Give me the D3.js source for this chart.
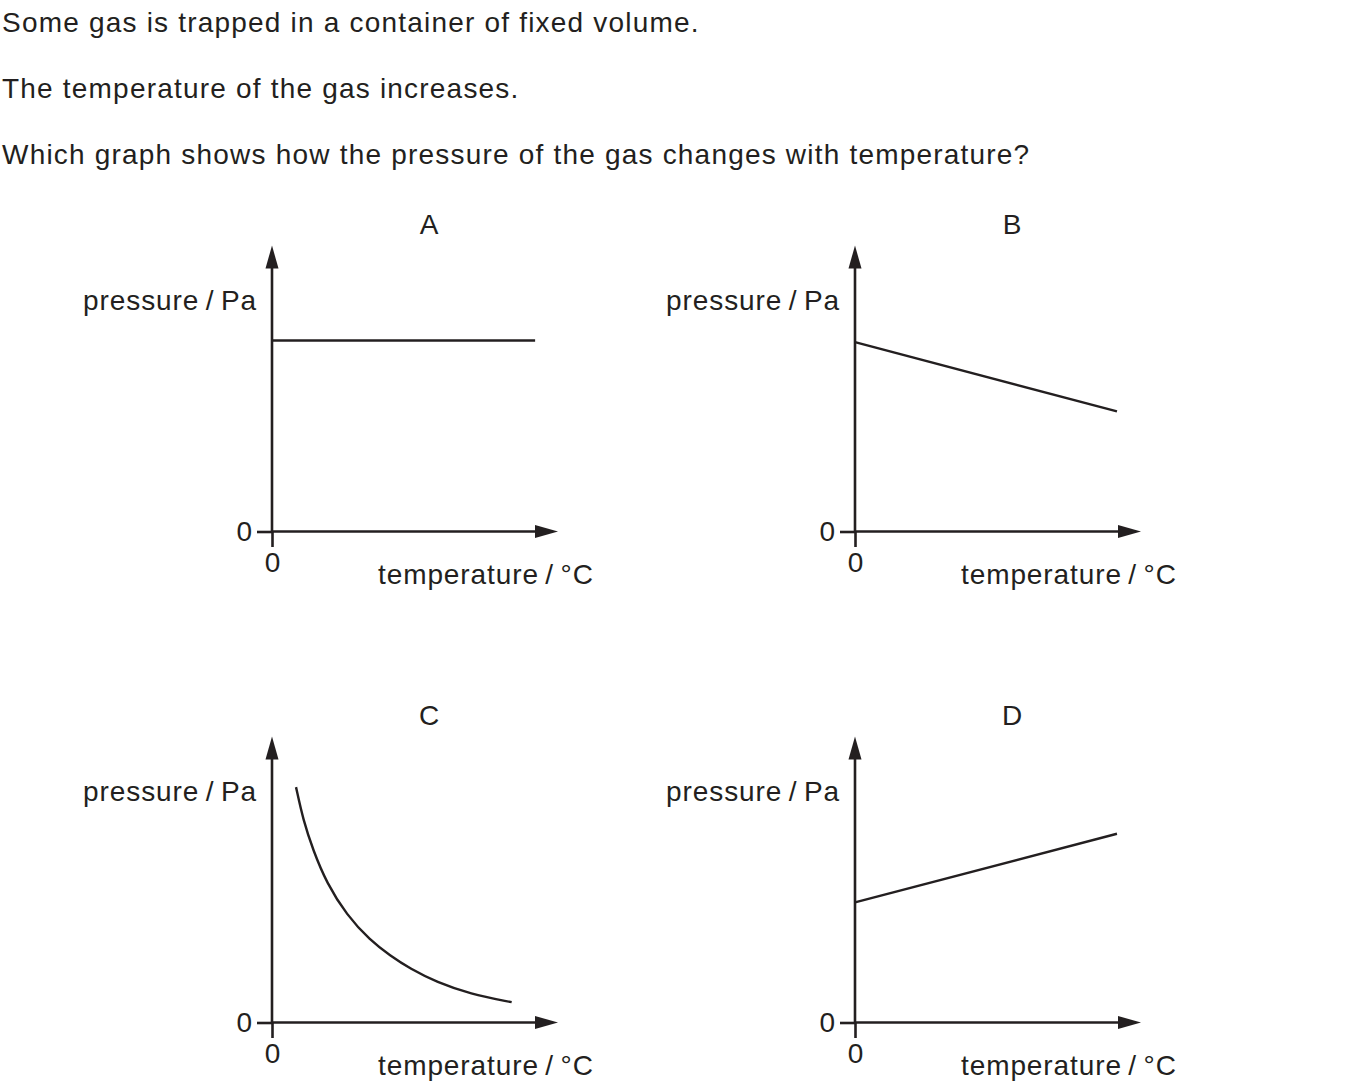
<!DOCTYPE html>
<html>
<head>
<meta charset="utf-8">
<script src="https://cdn.jsdelivr.net/npm/d3@7"></script>
<style>
  html, body { margin: 0; padding: 0; background: #fff; }
  svg { display: block; }
  text { font-family: "Liberation Sans", Arial, Helvetica, sans-serif; fill: #231f20; }
</style>
</head>
<body>
<svg id="chart" width="1354" height="1091"></svg>
<script>
// ---- data ----
const questionLines = [
  "Some gas is trapped in a container of fixed volume.",
  "The temperature of the gas increases.",
  "Which graph shows how the pressure of the gas changes with temperature?"
];
const panelNames = ["A", "B", "C", "D"];
const xAxisLabel = "temperature\u2009/\u2009°C";
const yAxisLabel = "pressure\u2009/\u2009Pa";
const xTickLabels = ["0"];
const yTickLabels = ["0"];

const temperatureA = [0, 9.2];
const pressureA    = [6.68, 6.68];
const temperatureB = [0, 9.16];
const pressureB    = [6.62, 4.2];
const temperatureC = [0.84, 1.09, 1.44, 1.91, 2.61, 3.43, 4.13, 4.83, 5.76, 6.92, 8.38];
const pressureC    = [8.23, 7.08, 6.02, 4.88, 3.76, 2.87, 2.34, 1.88, 1.41, 1.00, 0.71];
const temperatureD = [0, 9.16];
const pressureD    = [4.2, 6.6];

const seriesX = [temperatureA, temperatureB, temperatureC, temperatureD];
const seriesY = [pressureA, pressureB, pressureC, pressureD];

// ---- layout ----
const ink = "#231f20";
const svg = d3.select("#chart");
const fontSize = 28;
const letterSp = 0.9;

svg.selectAll("text.q").data(questionLines).join("text")
  .attr("class", "q")
  .attr("x", 2)
  .attr("y", (d, i) => 32 + i * 66)
  .style("font-size", fontSize + "px")
  .style("letter-spacing", "1.2px")
  .text(d => d);

const axisLen = 286;
const origins = [[272, 531.5], [855, 531.5], [272, 1022.5], [855, 1022.5]];
const x = d3.scaleLinear().domain([0, 10]).range([0, axisLen]);
const y = d3.scaleLinear().domain([0, 10]).range([0, -axisLen]);

panelNames.forEach((name, i) => {
  const [ox, oy] = origins[i];
  const g = svg.append("g").attr("transform", `translate(${ox},${oy})`);

  // panel letter
  g.append("text")
    .attr("x", 157).attr("y", -297.5)
    .attr("text-anchor", "middle")
    .style("font-size", fontSize + "px")
    .text(name);

  // axes with single 0 tick
  const ax = g.append("g").call(
    d3.axisBottom(x).tickValues([0]).tickFormat((d, j) => xTickLabels[j]).tickSize(15.5).tickPadding(5)
  );
  const ay = g.append("g").call(
    d3.axisLeft(y).tickValues([0]).tickFormat((d, j) => yTickLabels[j]).tickSize(15).tickPadding(5)
  );
  [ax, ay].forEach(a => {
    a.select(".domain").remove();
    a.selectAll("line").attr("stroke", ink).attr("stroke-width", 2.6);
    a.selectAll("text").style("font-size", fontSize + "px").attr("fill", ink)
      .style("font-family", '"Liberation Sans", Arial, sans-serif');
  });

  // axis lines
  g.append("line").attr("x1", x(0)).attr("y1", y(0)).attr("x2", x(10) - 10).attr("y2", y(0))
    .attr("stroke", ink).attr("stroke-width", 2.6);
  g.append("line").attr("x1", x(0)).attr("y1", y(0) + 1.3).attr("x2", x(0)).attr("y2", y(10) + 10)
    .attr("stroke", ink).attr("stroke-width", 2.6);
  // arrowheads
  g.append("path")
    .attr("d", `M${x(10)},${y(0)} L${x(10) - 23},${y(0) - 6.5} L${x(10) - 23},${y(0) + 6.5} Z`)
    .attr("fill", ink);
  g.append("path")
    .attr("d", `M${x(0)},${y(10)} L${x(0) - 6.5},${y(10) + 23} L${x(0) + 6.5},${y(10) + 23} Z`)
    .attr("fill", ink);

  // axis titles
  g.append("text")
    .attr("x", -15).attr("y", -221.5)
    .attr("text-anchor", "end")
    .style("font-size", fontSize + "px")
    .style("letter-spacing", letterSp + "px")
    .text(yAxisLabel);
  g.append("text")
    .attr("x", 106).attr("y", 52.5)
    .attr("text-anchor", "start")
    .style("font-size", fontSize + "px")
    .style("letter-spacing", letterSp + "px")
    .text(xAxisLabel);

  // data line
  const pts = seriesX[i].map((t, k) => [t, seriesY[i][k]]);
  const line = d3.line()
    .x(d => x(d[0])).y(d => y(d[1]))
    .curve(i === 2 ? d3.curveBasis : d3.curveLinear);
  g.append("path").datum(pts)
    .attr("d", line)
    .attr("fill", "none")
    .attr("stroke", ink)
    .attr("stroke-width", 2.4);
});
</script>
</body>
</html>
